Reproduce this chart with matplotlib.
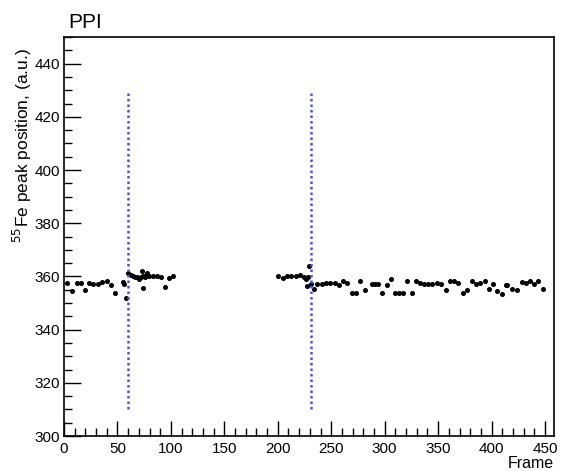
import matplotlib.pyplot as plt
from matplotlib.ticker import MultipleLocator

plt.rcParams['font.family'] = ['Liberation Sans', 'DejaVu Sans']

# Datos: posición del pico de 55Fe por frame
frame_a = [3.1, 7.8, 12.4, 15.9, 19.6, 23.7, 27.4, 31.5, 35.8, 39.9, 43.7, 48.0,
           54.9, 56.1, 58.0, 60.1, 62.4, 64.8, 66.4, 68.6, 70.4, 72.0, 73.2, 74.2,
           74.3, 75.8, 76.7, 77.9, 79.8, 83.5, 87.0, 90.7, 94.5, 98.2, 102.2]
pico_a = [357.5, 354.4, 357.4, 357.4, 354.8, 357.4, 357.3, 357.3, 357.8, 358.4, 356.8, 353.9,
          357.8, 357.1, 351.9, 361.3, 360.4, 360.1, 359.8, 359.8, 359.2, 359.6, 361.9, 360.2,
          355.8, 359.8, 360.5, 361.1, 360.1, 360.0, 360.0, 359.8, 356.2, 359.3, 360.1]

frame_b = [200.5, 204.6, 208.6, 212.6, 216.7, 220.8, 224.5, 226.4, 227.6, 228.5, 229.5,
           231.1, 233.9, 237.0, 241.1, 245.1, 249.2, 253.2, 257.0, 261.0, 265.0, 269.1,
           272.8, 276.9, 281.3, 287.8, 290.9, 294.0, 297.8, 301.9, 305.6, 309.6, 313.4,
           317.4, 321.1, 325.2, 329.3, 333.0, 336.8, 340.8, 344.5, 348.6, 352.4, 357.3,
           361.1, 365.1, 368.8, 373.5, 377.3, 381.4, 385.4, 389.2, 393.8, 397.6, 401.6,
           405.3, 410.0, 413.5, 414.7, 418.8, 423.5, 428.2, 431.9, 435.9, 439.7, 443.7,
           447.8]
pico_b = [360.3, 359.4, 360.2, 360.0, 360.3, 360.6, 359.8, 359.0, 356.3, 359.6, 363.8,
          357.3, 355.3, 357.2, 357.1, 357.7, 357.7, 357.5, 356.9, 358.2, 357.7, 353.6,
          353.9, 358.2, 354.7, 357.3, 357.3, 357.3, 353.9, 356.9, 359.2, 353.8, 353.9,
          353.9, 358.3, 353.9, 358.3, 357.5, 357.3, 357.3, 357.3, 357.5, 357.1, 354.8,
          358.2, 358.2, 357.7, 353.9, 354.8, 358.2, 357.3, 357.7, 358.2, 355.1, 357.1,
          354.5, 353.2, 356.9, 356.7, 355.1, 354.7, 357.8, 357.5, 358.2, 357.1, 358.2,
          355.1]

lineas_x = [60, 231]
lineas_y = (310, 430)

fig = plt.figure(figsize=(5.63, 4.71), dpi=100)
ax = fig.add_axes([64 / 563, 1 - 436 / 471, 490 / 563, 399 / 471])

ax.plot(frame_a + frame_b, pico_a + pico_b, 'o', color='black', markersize=2.6, linestyle='none')

# Líneas verticales punteadas
for xv in lineas_x:
    ax.vlines(xv, lineas_y[0], lineas_y[1], colors='#4d4dff', linestyles=(0, (1, 1.2)), linewidth=1.8)

ax.set_xlim(0, 458.4)
ax.set_ylim(300, 450)
ax.xaxis.set_major_locator(MultipleLocator(50))
ax.xaxis.set_minor_locator(MultipleLocator(10))
ax.yaxis.set_major_locator(MultipleLocator(20))
ax.yaxis.set_minor_locator(MultipleLocator(5))
ax.tick_params(which='major', direction='in', length=11, labelsize=11, width=1, pad=4)
ax.tick_params(which='minor', direction='in', length=6, width=1)
ax.tick_params(axis='y', which='major', length=12, pad=3)
for s in ax.spines.values():
    s.set_linewidth(1.2)

ax.set_xlabel('Frame', loc='right', fontsize=11.5, labelpad=0)
fig.text(22 / 563, 1 - 48 / 471, r'$^{55}$Fe peak position, (a.u.)', rotation=90,
         ha='center', va='top', fontsize=12.5)
fig.text(68 / 563, 1 - 22 / 471, 'PPI', fontsize=15, ha='left', va='center')

plt.savefig('out.png', dpi=100)
